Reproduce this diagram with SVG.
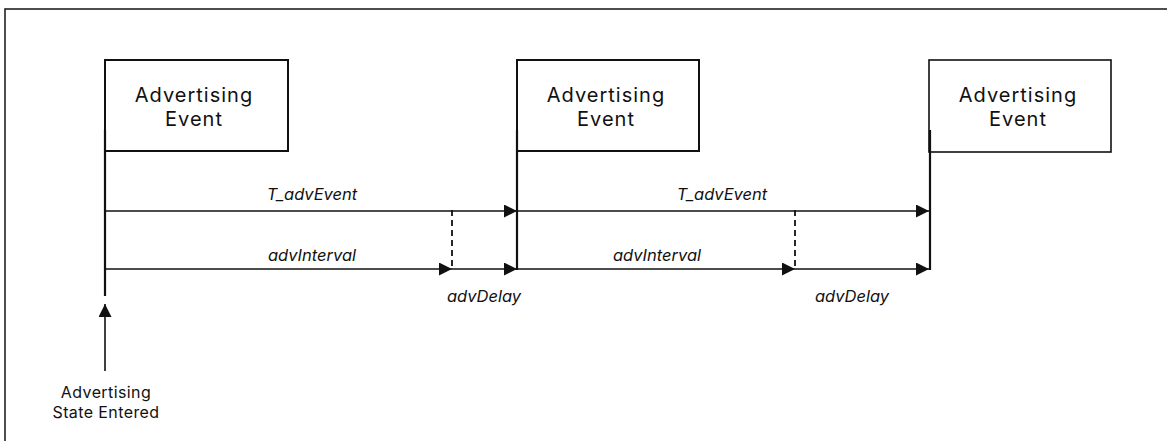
<svg xmlns="http://www.w3.org/2000/svg" width="1167" height="441" viewBox="0 0 1167 441">
<style>
.frame{fill:none;stroke:#222;stroke-width:1.6}
.box{fill:#fff;stroke:#111;stroke-width:2}
.bt{font-family:Inter,"Liberation Sans",sans-serif;font-size:20px;letter-spacing:1px;fill:#111;text-anchor:middle}
.lab{font-family:Inter,"Liberation Sans",sans-serif;font-size:16.5px;font-style:italic;fill:#111;text-anchor:middle}
.st{font-family:Inter,"Liberation Sans",sans-serif;font-size:16px;letter-spacing:0.4px;fill:#111;text-anchor:middle}
.ln{stroke:#111;stroke-width:1.6;fill:none}
.vl{stroke:#111;stroke-width:2.2;fill:none}
.dash{stroke:#111;stroke-width:1.8;stroke-dasharray:6,4;fill:none}
</style>
<defs>
<marker id="ah" markerWidth="13" markerHeight="13" refX="13" refY="6.5" orient="auto" markerUnits="userSpaceOnUse">
<path d="M0,0 L13,6.5 L0,13 Z" fill="#111"/>
</marker>
</defs>
<rect class="frame" x="5" y="9" width="1175" height="445"/>
<g id="event1">
<rect class="box" x="105" y="60" width="183" height="91"/>
<text class="bt" x="194" y="102">Advertising</text>
<text class="bt" x="194" y="126">Event</text>
</g>
<g id="event2">
<rect class="box" x="517" y="60" width="182" height="91"/>
<text class="bt" x="606" y="102">Advertising</text>
<text class="bt" x="606" y="126">Event</text>
</g>
<g id="event3">
<rect class="box" x="929" y="60" width="182" height="92" style="stroke-width:1.6"/>
<text class="bt" x="1018" y="102">Advertising</text>
<text class="bt" x="1018" y="126">Event</text>
</g>
<g id="state-entered">
<text class="st" x="106" y="398">Advertising</text>
<text class="st" x="106" y="418">State Entered</text>
</g>
<g id="connectors">
<line class="vl" x1="105" y1="130" x2="105" y2="296"/>
<line class="vl" x1="517" y1="130" x2="517" y2="270"/>
<line class="vl" x1="930" y1="130" x2="930" y2="270"/>
<line class="ln" x1="105" y1="371" x2="105" y2="304" marker-end="url(#ah)"/>
<line class="ln" x1="105" y1="211" x2="517" y2="211" marker-end="url(#ah)"/>
<line class="ln" x1="517" y1="211" x2="929" y2="211" marker-end="url(#ah)"/>
<line class="ln" x1="105" y1="269" x2="452" y2="269" marker-end="url(#ah)"/>
<line class="ln" x1="452" y1="269" x2="517" y2="269" marker-end="url(#ah)"/>
<line class="ln" x1="517" y1="269" x2="795" y2="269" marker-end="url(#ah)"/>
<line class="ln" x1="795" y1="269" x2="929" y2="269" marker-end="url(#ah)"/>
<line class="dash" x1="452" y1="210" x2="452" y2="269"/>
<line class="dash" x1="795" y1="210" x2="795" y2="269"/>
<text class="lab" x="312" y="200">T_advEvent</text>
<text class="lab" x="722" y="200">T_advEvent</text>
<text class="lab" x="312" y="261">advInterval</text>
<text class="lab" x="657" y="261">advInterval</text>
<text class="lab" x="484" y="302">advDelay</text>
<text class="lab" x="852" y="302">advDelay</text>
</g>
</svg>
